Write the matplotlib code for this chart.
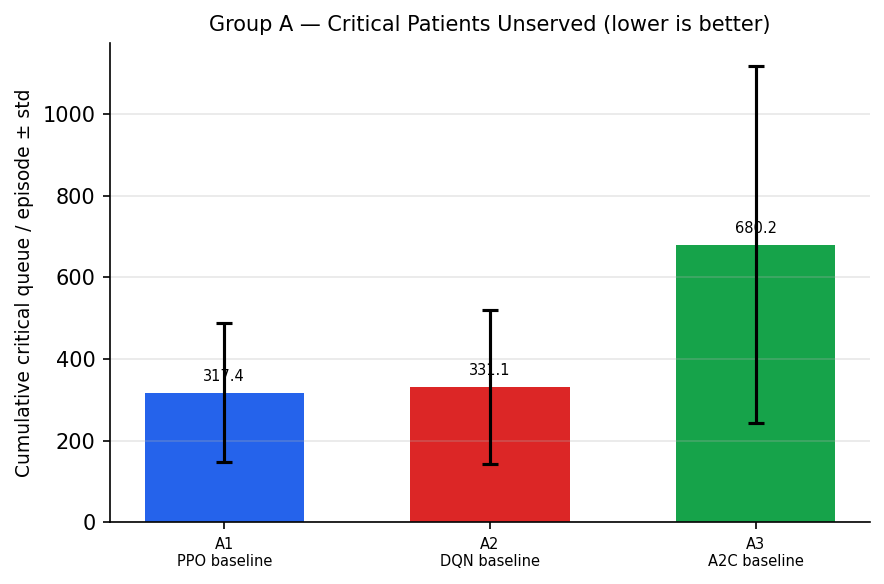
import matplotlib.pyplot as plt

# Group A results (mean +- std of cumulative critical queue per episode)
runs = ["A1", "A2", "A3"]
algos = ["PPO baseline", "DQN baseline", "A2C baseline"]
means = [317.4, 331.1, 680.2]
stds = [170.0, 189.0, 438.0]
colors = ["#2563eb", "#dc2626", "#16a34a"]

fig, ax = plt.subplots(figsize=(884 / 150, 584 / 150), dpi=150)
fig.subplots_adjust(left=0.1244, right=0.984, top=0.926, bottom=0.106)

x = list(range(len(runs)))
ax.bar(x, means, width=0.6, color=colors,
       yerr=stds, capsize=4, error_kw=dict(elinewidth=1.5, capthick=1.5, ecolor="black"))

for xi, m in zip(x, means):
    ax.text(xi, m + 22, f"{m:.1f}", ha="center", va="bottom", fontsize=7)

ax.set_xticks(x)
ax.set_xticklabels([f"{r}\n{a}" for r, a in zip(runs, algos)], fontsize=7)
ax.set_ylabel("Cumulative critical queue / episode ± std", fontsize=9)
ax.set_title("Group A — Critical Patients Unserved (lower is better)", fontsize=10)
ax.grid(axis="y", alpha=0.3)
ax.spines["top"].set_visible(False)
ax.spines["right"].set_visible(False)

fig.savefig("out.png", dpi=150)
